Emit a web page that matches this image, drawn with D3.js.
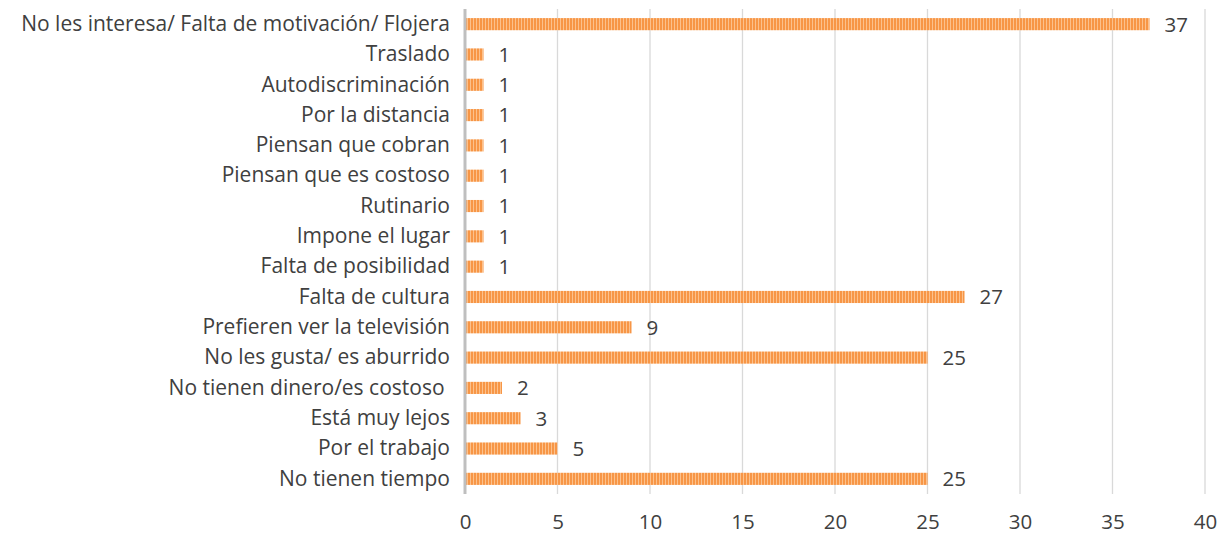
<!DOCTYPE html>
<html>
<head>
<meta charset="utf-8">
<script src="https://cdn.jsdelivr.net/npm/d3@7"></script>
<style>
  body { margin: 0; background: #fff; }
  svg { display: block; }
  text { font-family: "Open Sans", sans-serif; fill: #404040; }
</style>
</head>
<body>
<svg></svg>
<script>
const categories = [
  "No les interesa/ Falta de motivación/ Flojera",
  "Traslado",
  "Autodiscriminación",
  "Por la distancia",
  "Piensan que cobran",
  "Piensan que es costoso",
  "Rutinario",
  "Impone el lugar",
  "Falta de posibilidad",
  "Falta de cultura",
  "Prefieren ver la televisión",
  "No les gusta/ es aburrido",
  "No tienen dinero/es costoso ",
  "Está muy lejos",
  "Por el trabajo",
  "No tienen tiempo"
];
const values = [37, 1, 1, 1, 1, 1, 1, 1, 1, 27, 9, 25, 2, 3, 5, 25];
const xTicks = [0, 5, 10, 15, 20, 25, 30, 35, 40];

const width = 1229;
const height = 536;
const plotLeft = 465;
const plotRight = 1205;
const plotTop = 9;
const plotBottom = 494;
const fontSize = "20.5px";

const svg = d3.select("svg").attr("width", width).attr("height", height);

const defs = svg.append("defs");
const pat = defs.append("pattern")
  .attr("id", "stripes")
  .attr("patternUnits", "userSpaceOnUse")
  .attr("width", 3)
  .attr("height", 10);
pat.append("rect").attr("width", 3).attr("height", 10).attr("fill", "#fcc18c");
pat.append("rect").attr("width", 2).attr("height", 10).attr("fill", "#f79646");

const xScale = d3.scaleLinear().domain([0, 40]).range([plotLeft, plotRight]);
const yScale = d3.scaleBand().domain(categories).range([plotTop, plotBottom]).paddingInner(0.6).paddingOuter(0.3);

// gridlines
svg.append("g")
  .selectAll("line")
  .data(xTicks.slice(1))
  .enter()
  .append("line")
  .attr("x1", (d) => xScale(d))
  .attr("x2", (d) => xScale(d))
  .attr("y1", plotTop)
  .attr("y2", plotBottom)
  .attr("stroke", "#d9d9d9")
  .attr("stroke-width", 1.3);

// bars
svg.append("g")
  .selectAll("rect")
  .data(values)
  .enter()
  .append("rect")
  .attr("x", xScale(0))
  .attr("y", (d, i) => yScale(categories[i]))
  .attr("width", (d) => xScale(d) - xScale(0))
  .attr("height", yScale.bandwidth())
  .attr("fill", "url(#stripes)");

// value labels
svg.append("g")
  .selectAll("text")
  .data(values)
  .enter()
  .append("text")
  .attr("x", (d) => xScale(d) + 15)
  .attr("y", (d, i) => yScale(categories[i]) + yScale.bandwidth() / 2)
  .attr("dy", "0.36em")
  .style("font-size", fontSize)
  .text((d) => d);

// y axis
const yAxis = d3.axisLeft(yScale).tickSize(0).tickPadding(15);
const gy = svg.append("g")
  .attr("transform", `translate(${plotLeft}, 0)`)
  .call(yAxis);
gy.select(".domain").remove();
gy.selectAll("text")
  .style("font-size", "21px")
  .style("white-space", "pre")
  .style("font-family", "\"Open Sans\", sans-serif")
  .attr("fill", "#404040");

svg.append("line")
  .attr("x1", plotLeft)
  .attr("x2", plotLeft)
  .attr("y1", plotTop)
  .attr("y2", plotBottom)
  .attr("stroke", "#bfbfbf")
  .attr("stroke-width", 3);

// x axis
const xAxis = d3.axisBottom(xScale).tickValues(xTicks).tickSize(0).tickPadding(20);
const gx = svg.append("g")
  .attr("transform", `translate(0, ${plotBottom})`)
  .call(xAxis);
gx.select(".domain").remove();
gx.selectAll("text")
  .style("font-size", fontSize)
  .style("font-family", "\"Open Sans\", sans-serif")
  .attr("fill", "#404040");
</script>
</body>
</html>
